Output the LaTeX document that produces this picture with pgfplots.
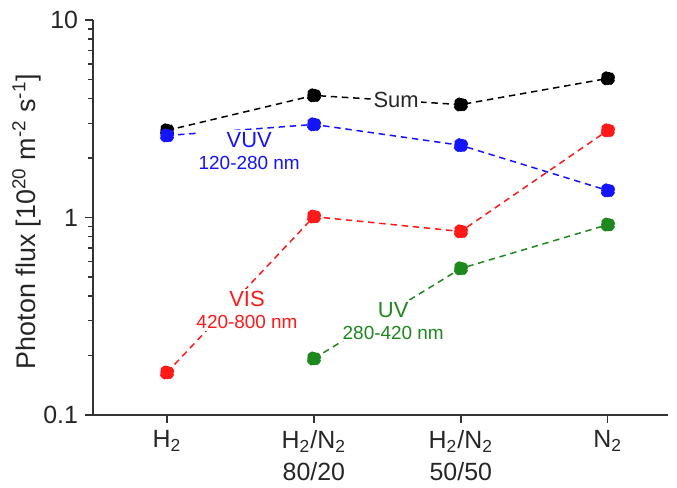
\documentclass[border=0pt]{standalone}
\usepackage{pgfplots}
\pgfplotsset{compat=1.18}
\usepackage{fontspec}
\setmainfont{Liberation Sans}
\definecolor{cblue}{RGB}{20,20,255}
\definecolor{cred}{RGB}{255,25,25}
\definecolor{cgreen}{RGB}{30,135,30}
\begin{document}
\begin{tikzpicture}
\path (-46.5bp,-35.5bp) rectangle (292bp,207.5bp);
\begin{axis}[
  scale only axis, width=287.5bp, height=197.5bp,
  at={(0,0)}, anchor=south west,
  ymode=log, ymin=0.1, ymax=10,
  xmin=-0.503, xmax=3.41,
  axis x line*=bottom, axis y line*=left,
  axis line style={-, line width=0.8bp, draw=black!80},
  tick style={line width=0.7bp, draw=black!80},
  tick align=outside,
  major tick length=4bp, minor tick length=2.5bp,
  xtick={0,1,2,3},
  xticklabels={H\textsubscript{2},{H\textsubscript{2}/N\textsubscript{2}\\80/20},{H\textsubscript{2}/N\textsubscript{2}\\50/50},N\textsubscript{2}},
  xticklabel style={align=center, font=\fontsize{12.5}{16.5}\selectfont, text=black!85},
  ytick={0.1,1,10}, yticklabels={0.1,1,10},
  yticklabel style={font=\fontsize{12.5}{14}\selectfont, text=black!85},
  ylabel={Photon flux [10\textsuperscript{20} m\textsuperscript{-2} s\textsuperscript{-1}]},
  ylabel style={font=\fontsize{13.5}{15}\selectfont, text=black!85, at={(axis description cs:-0.115,0.49)}, anchor=center},
  every axis plot/.append style={dash pattern=on 3.2bp off 2.4bp, line width=0.75bp, mark=*, mark size=3.3bp, mark options={solid}},
  clip=false,
]
\addplot[black, mark options={fill=black, draw=black}] coordinates {(0,2.76) (1,4.15) (2,3.73) (3,5.06)};
\addplot[cblue, mark options={fill=cblue, draw=cblue}] coordinates {(0,2.60) (1,2.96) (2,2.32) (3,1.37)};
\addplot[cred, mark options={fill=cred, draw=cred}] coordinates {(0,0.164) (1,1.01) (2,0.85) (3,2.76)};
\addplot[cgreen, mark options={fill=cgreen, draw=cgreen}] coordinates {(1,0.193) (2,0.552) (3,0.92)};
\node[fill=white, inner sep=1pt, font=\fontsize{11}{13}\selectfont, text=black!85] at (axis cs:1.56,3.95) {Sum};
\node[fill=white, inner sep=1pt, align=center, text=cblue, font=\fontsize{11}{12}\selectfont] at (axis cs:0.56,2.18) {VUV\\[-1pt]{\fontsize{9.5}{11}\selectfont 120-280 nm}};
\node[fill=white, inner sep=1pt, align=center, text=cred, font=\fontsize{11}{12}\selectfont] at (axis cs:0.545,0.34) {VIS\\[-1pt]{\fontsize{9.5}{11}\selectfont 420-800 nm}};
\node[fill=white, inner sep=1pt, align=center, text=cgreen, font=\fontsize{11}{12}\selectfont] at (axis cs:1.54,0.30) {UV\\[-1pt]{\fontsize{9.5}{11}\selectfont 280-420 nm}};
\end{axis}
\end{tikzpicture}
\end{document}
